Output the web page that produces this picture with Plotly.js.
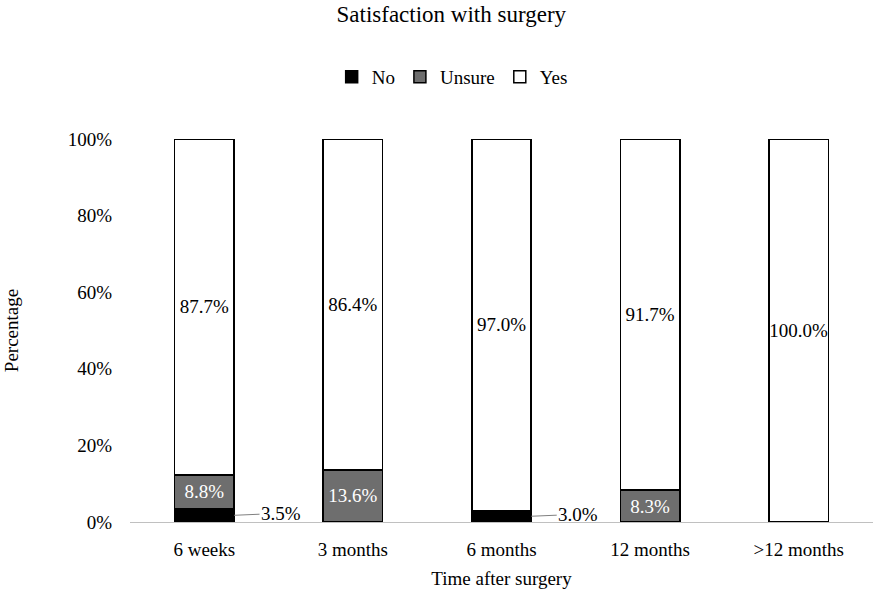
<!DOCTYPE html>
<html>
<head>
<meta charset="utf-8">
<script src="https://cdn.plot.ly/plotly-3.0.1.min.js"></script>
<style>html,body{margin:0;padding:0;background:#fff;}#chart{width:878px;height:595px;}</style>
</head>
<body>
<div id="chart"></div>
<script>
const categories = ['6 weeks', '3 months', '6 months', '12 months', '>12 months'];
const noValues = [3.5, 0, 3.0, 0, 0];
const unsureValues = [8.8, 13.6, 0, 8.3, 0];
const yesValues = [87.7, 86.4, 97.0, 91.7, 100.0];
const yTickValues = [0, 20, 40, 60, 80, 100];

const FONT = 'Liberation Serif, Times New Roman, serif';
const fmt = v => v > 0 ? v.toFixed(1) + '%' : '';
const barLine = {color: '#000000', width: 1.5};

const traces = [
  {type: 'bar', name: 'No', x: categories, y: noValues,
   marker: {color: '#000000', line: barLine}, hoverinfo: 'none'},
  {type: 'bar', name: 'Unsure', x: categories, y: unsureValues,
   marker: {color: '#6e6e6e', line: barLine},
   text: unsureValues.map(fmt), textposition: 'inside', insidetextanchor: 'middle', textangle: 0,
   textfont: {family: FONT, size: 19, color: '#ffffff'}, hoverinfo: 'none'},
  {type: 'bar', name: 'Yes', x: categories, y: yesValues,
   marker: {color: '#ffffff', line: barLine},
   text: yesValues.map(fmt), textposition: 'inside', insidetextanchor: 'middle', textangle: 0,
   constraintext: 'none',
   textfont: {family: FONT, size: 19, color: '#000000'}, hoverinfo: 'none'}
];

const halfBar = 0.2;
const annotations = [];
noValues.forEach((v, i) => {
  if (v > 0) {
    annotations.push({
      x: i + halfBar, y: v / 2, xref: 'x', yref: 'y',
      text: fmt(v), showarrow: true, arrowhead: 0, arrowwidth: 1, arrowcolor: '#808080',
      ax: 47, ay: -2, standoff: 0,
      font: {family: FONT, size: 19, color: '#000000'}
    });
  }
});

const layout = {
  width: 878, height: 595,
  margin: {l: 130, r: 5, t: 139, b: 73},
  paper_bgcolor: '#ffffff', plot_bgcolor: '#ffffff',
  font: {family: FONT, size: 19, color: '#000000'},
  barmode: 'stack', bargap: 0.6,
  showlegend: true,
  title: {text: 'Satisfaction with surgery', font: {family: FONT, size: 23, color: '#000000'},
          x: 0.514, xref: 'container', xanchor: 'center', y: 1 - 14/595, yref: 'container', yanchor: 'middle'},
  legend: {orientation: 'h', xref: 'container', yref: 'container', x: 0.515, xanchor: 'center',
           y: 1 - 77/595, yanchor: 'middle', font: {family: FONT, size: 19}, itemwidth: 30,
           tracegroupgap: 0, traceorder: 'normal'},
  xaxis: {type: 'category', showgrid: false, zeroline: false, showline: true, linecolor: '#c0c0c0', linewidth: 1,
          ticks: '', ticklabelstandoff: 10, tickfont: {family: FONT, size: 19},
          title: {text: 'Time after surgery', font: {family: FONT, size: 19}, standoff: 12}, automargin: true},
  yaxis: {range: [0, 100], tickvals: yTickValues, ticktext: yTickValues.map(v => v + '%'),
          showgrid: false, zeroline: false, showline: false, ticks: '', ticklabelstandoff: 17,
          tickfont: {family: FONT, size: 19},
          title: {text: 'Percentage', font: {family: FONT, size: 19}, standoff: 44}, automargin: true},
  annotations: annotations
};

Plotly.newPlot('chart', traces, layout, {displayModeBar: false, staticPlot: true});
</script>
</body>
</html>
